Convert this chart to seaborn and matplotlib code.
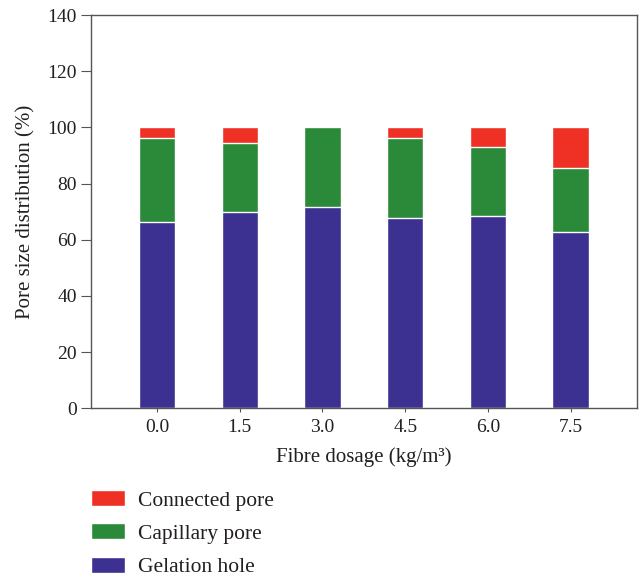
import matplotlib
matplotlib.use("Agg")
import matplotlib.pyplot as plt
import seaborn as sns
import pandas as pd
from matplotlib.patches import Patch

dosages = ["0.0", "1.5", "3.0", "4.5", "6.0", "7.5"]
gelation = [66.2, 69.7, 71.5, 67.6, 68.3, 62.8]
capillary = [30.0, 24.6, 28.5, 28.6, 24.7, 22.7]
connected = [3.8, 5.7, 0.0, 3.8, 7.0, 14.5]

series_names = ["Connected pore", "Capillary pore", "Gelation hole"]
colors = {"Connected pore": "#EE3124", "Capillary pore": "#2A8A3A", "Gelation hole": "#3C3190"}

sns.set_style("ticks")
plt.rcParams["font.family"] = ["Liberation Serif", "DejaVu Serif"]
text_color = "#231F20"

df = pd.DataFrame({"dosage": dosages, "gel": gelation, "cap": capillary, "con": connected})
df["top_cap"] = df["gel"] + df["cap"]
df["top_con"] = df["top_cap"] + df["con"]

fig = plt.figure(figsize=(6.4, 5.79), dpi=100)
ax = fig.add_axes([0.142, 0.295, 0.853, 0.679])

for col, name in [("top_con", "Connected pore"), ("top_cap", "Capillary pore"), ("gel", "Gelation hole")]:
    sns.barplot(data=df, x="dosage", y=col, order=dosages, color=colors[name],
                width=0.44, edgecolor="white", linewidth=1.0, saturation=1, ax=ax, errorbar=None)

ax.set_xlim(-0.8, 5.8)
ax.set_ylim(0, 140)
ax.set_yticks(range(0, 141, 20))
ax.set_xlabel("Fibre dosage (kg/m³)", fontsize=15, color=text_color, labelpad=8)
ax.set_ylabel("Pore size distribution (%)", fontsize=15, color=text_color, labelpad=9)
ax.tick_params(axis="both", labelsize=14, colors="#555555", labelcolor=text_color, direction="out")
ax.tick_params(axis="x", length=3, pad=5)
ax.tick_params(axis="y", length=7, pad=3)
for s in ax.spines.values():
    s.set_color("#555555")
    s.set_linewidth(1.0)
    s.set_visible(True)

handles = [Patch(facecolor=colors[n], edgecolor="white", label=n) for n in series_names]
fig.legend(handles=handles, loc="upper left", bbox_to_anchor=(0.126, 0.172), frameon=False,
           fontsize=15.5, handlelength=1.55, handleheight=0.75, handletextpad=0.6,
           labelspacing=0.6, borderpad=0, labelcolor=text_color)

fig.savefig("out.png", dpi=100)
